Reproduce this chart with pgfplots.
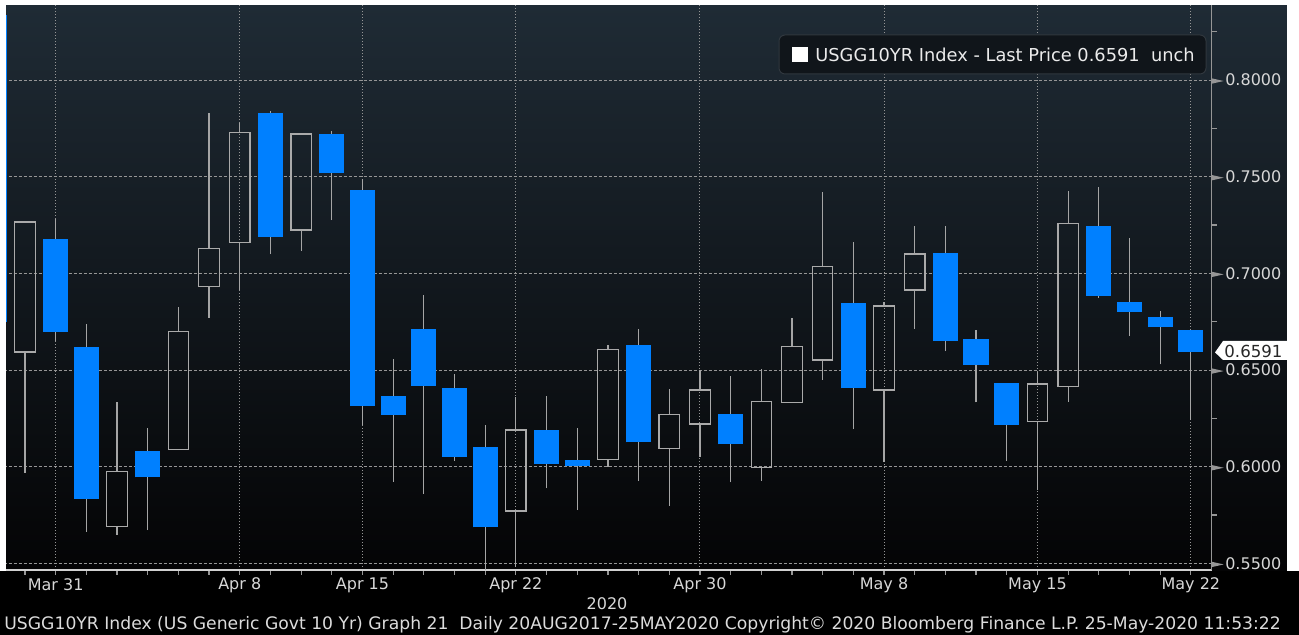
\documentclass[border=0pt]{standalone}
\usepackage{fontspec}
\setmainfont{DejaVu Sans}
\usepackage{pgfplots}
\usepackage{pgfplotstable}
\pgfplotsset{compat=1.18}
\definecolor{bbblue}{RGB}{0,128,255}
\definecolor{wick}{RGB}{165,165,165}
\definecolor{hollow}{RGB}{170,170,170}
\definecolor{gridc}{RGB}{150,150,150}
\definecolor{axgray}{RGB}{150,150,150}
\definecolor{labc}{RGB}{215,215,215}
\definecolor{bgtop}{RGB}{31,43,53}
\definecolor{bgbot}{RGB}{4,4,5}
\definecolor{legfill}{RGB}{16,21,26}
\definecolor{legdraw}{RGB}{48,55,62}
% hollow (close > open) candles: x, body low, body high, low, high
\pgfplotstableread{
x lo hi L H
0 0.6593 0.7266 0.5967 0.7266
3 0.5690 0.5974 0.5647 0.6333
5 0.6091 0.6698 0.6091 0.6828
6 0.6934 0.7129 0.6767 0.7828
7 0.7158 0.7727 0.6913 0.7779
9 0.7224 0.7721 0.7117 0.7721
16 0.5771 0.6190 0.5480 0.6362
19 0.6038 0.6607 0.6000 0.6629
21 0.6095 0.6269 0.5797 0.6402
22 0.6221 0.6397 0.6050 0.6500
24 0.5995 0.6336 0.5927 0.6504
25 0.6334 0.6621 0.6334 0.6771
26 0.6552 0.7034 0.6448 0.7419
28 0.6397 0.6831 0.6024 0.6850
29 0.6914 0.7100 0.6710 0.7246
33 0.6236 0.6428 0.5879 0.6491
34 0.6414 0.7259 0.6333 0.7426
}\uptab
% filled blue (close < open) candles
\pgfplotstableread{
x lo hi L H
-1 0.6747 0.8336 0.6747 0.8336
1 0.6697 0.7178 0.6650 0.7281
2 0.5833 0.6621 0.5664 0.6738
4 0.5945 0.6081 0.5672 0.6202
8 0.7190 0.7828 0.7100 0.7841
10 0.7519 0.7721 0.7276 0.7736
11 0.6314 0.7431 0.6216 0.7488
12 0.6267 0.6366 0.5922 0.6557
13 0.6419 0.6712 0.5859 0.6888
14 0.6052 0.6405 0.6030 0.6479
15 0.5686 0.6100 0.5450 0.6216
17 0.6012 0.6191 0.5888 0.6367
18 0.6003 0.6034 0.5776 0.6198
20 0.6126 0.6628 0.5926 0.6710
23 0.6116 0.6272 0.5919 0.6471
27 0.6405 0.6845 0.6195 0.7160
30 0.6650 0.7103 0.6598 0.7246
31 0.6526 0.6660 0.6333 0.6707
32 0.6216 0.6431 0.6029 0.6431
35 0.6884 0.7246 0.6875 0.7445
36 0.6802 0.6853 0.6676 0.7181
37 0.6721 0.6772 0.6529 0.6807
38 0.6591 0.6707 0.6241 0.6707
}\dntab
\begin{document}
\begin{tikzpicture}[x=0.5pt,y=0.5pt]
\useasboundingbox (0,0) rectangle (1299,635);
\fill[black] (0,0) rectangle (1299,635);
\shade[top color=bgtop,bottom color=bgbot] (6,64) rectangle (1287,630);
\begin{axis}[
 at={(1.75pt,32.5pt)}, anchor=south west,
 scale only axis, width=604.1pt, height=282.5pt,
 xmin=-0.70, xmax=38.68, ymin=0.5466, ymax=0.8388,
 axis x line*=bottom, axis y line*=right,
 x axis line style={draw=white!82!black, line width=0.7pt, -},
 y axis line style={draw=axgray, line width=0.7pt, -},
 xtick={1,7,11,16,22,28,33,38},
 xticklabels={Mar 31,Apr 8,Apr 15,Apr 22,Apr 30,May 8,May 15,May 22},
 minor xtick={0,...,38},
 ytick={0.55,0.6,0.65,0.7,0.75,0.8},
 minor ytick={0.575,0.625,0.675,0.725,0.775,0.825},
 tick align=outside,
 major tick length=2.5pt, minor tick length=2.5pt,
 every tick/.style={draw=axgray, line width=0.6pt},
 major y tick style={draw=none},
 xmajorgrids, ymajorgrids,
 major x grid style={draw=gridc, line width=0.5pt, dash pattern=on 0.5pt off 1pt},
 major y grid style={draw=gridc, line width=0.5pt, dash pattern=on 1.5pt off 1pt},
 tick label style={font=\fontsize{8}{9.6}\selectfont, text=labc},
 xticklabel style={anchor=center, yshift=-5pt},
 yticklabel style={anchor=west, inner xsep=0pt, xshift=-2.5pt},
 yticklabel={\tikz[baseline=-0.55ex]\fill[axgray] (0pt,-1.3pt) -- (5.8pt,0pt) -- (0pt,1.3pt) -- cycle;\hspace{0.8pt}\pgfmathprintnumber[fixed,fixed zerofill,precision=4,assume math mode=true]{\tick}},
]
% wicks of filled candles (whole range; the body covers the middle)
\addplot[draw=none, mark=none, error bars/.cd, y dir=plus, y explicit, error mark=none,
  error bar style={draw=wick, line width=0.6pt}]
  table[x=x, y=L, y error expr=\thisrow{H}-\thisrow{L}] {\dntab};
% filled bodies
\addplot[draw=none, mark=none, error bars/.cd, y dir=plus, y explicit, error mark=none,
  error bar style={draw=bbblue, line width=12.6pt}]
  table[x=x, y=lo, y error expr=\thisrow{hi}-\thisrow{lo}] {\dntab};
% wicks of hollow candles, upper and lower
\addplot[draw=none, mark=none, error bars/.cd, y dir=plus, y explicit, error mark=none,
  error bar style={draw=wick, line width=0.6pt}]
  table[x=x, y=hi, y error expr=\thisrow{H}-\thisrow{hi}] {\uptab};
\addplot[draw=none, mark=none, error bars/.cd, y dir=minus, y explicit, error mark=none,
  error bar style={draw=wick, line width=0.6pt}]
  table[x=x, y=lo, y error expr=\thisrow{lo}-\thisrow{L}] {\uptab};
% hollow bodies: sides
\addplot[draw=none, mark=none, xshift=-5.1pt, error bars/.cd, y dir=plus, y explicit, error mark=none,
  error bar style={draw=hollow, line width=0.6pt}]
  table[x=x, y=lo, y error expr=\thisrow{hi}-\thisrow{lo}] {\uptab};
\addplot[draw=none, mark=none, xshift=5.1pt, error bars/.cd, y dir=plus, y explicit, error mark=none,
  error bar style={draw=hollow, line width=0.6pt}]
  table[x=x, y=lo, y error expr=\thisrow{hi}-\thisrow{lo}] {\uptab};
% hollow bodies: top and bottom edges
\addplot[only marks, mark=-, mark size=5.4pt, mark options={draw=hollow, line width=0.6pt}]
  table[x=x, y=lo] {\uptab};
\addplot[only marks, mark=-, mark size=5.4pt, mark options={draw=hollow, line width=0.6pt}]
  table[x=x, y=hi] {\uptab};
\end{axis}
% white margins of the screenshot
\fill[white] (0,630) rectangle (1299,635);
\fill[white] (0,64) rectangle (6,635);
\fill[white] (1287,64) rectangle (1299,635);
% legend box
\draw[rounded corners=3pt, fill=legfill, draw=legdraw, line width=0.5pt] (779,561) rectangle (1206,600);
\fill[white] (792,573) rectangle (808,588);
\node[anchor=west, inner sep=0pt, text={rgb,255:red,235;green,235;blue,235}, font=\fontsize{8.9}{10.5}\selectfont] at (815,580.5) {USGG10YR Index - Last Price 0.6591\ \ unch};
% last price tag
\fill[white] (1215,282.6) -- (1223,294) -- (1287,294) -- (1287,275) -- (1223,275) -- cycle;
\node[anchor=west, inner sep=0pt, text={rgb,255:red,40;green,40;blue,40}, font=\fontsize{8.3}{9.6}\selectfont] at (1224,284) {0.6591};
% year and footer
\node[inner sep=0pt, text=labc, font=\fontsize{8}{9.6}\selectfont] at (607,31) {2020};
\node[anchor=west, inner sep=0pt, text={rgb,255:red,220;green,220;blue,220}, font=\fontsize{8.6}{10}\selectfont] at (4,10) {USGG10YR Index (US Generic Govt 10 Yr) Graph 21\ \ Daily 20AUG2017-25MAY2020 Copyright© 2020 Bloomberg Finance L.P. 25-May-2020 11:53:22};
\end{tikzpicture}
\end{document}
